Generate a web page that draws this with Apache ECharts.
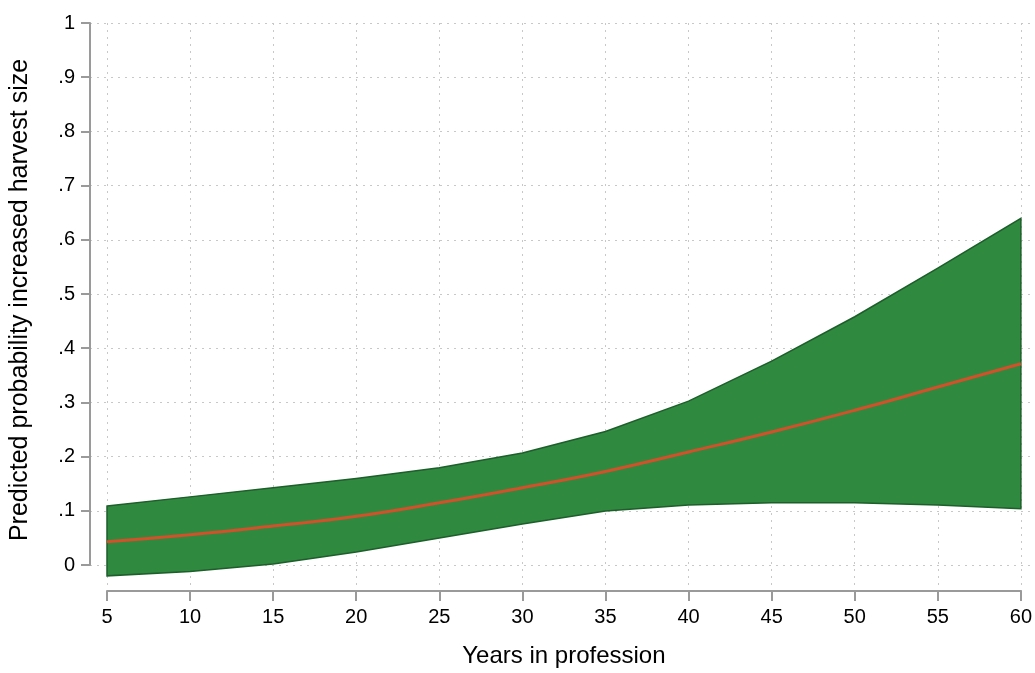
<!DOCTYPE html>
<html>
<head>
<meta charset="utf-8">
<script src="https://cdn.jsdelivr.net/npm/echarts@6/dist/echarts.min.js"></script>
<style>
html,body{margin:0;padding:0;background:#fff;}
#chart{width:1035px;height:673px;}
</style>
</head>
<body>
<div id="chart"></div>
<script>
// Data
const years = [5, 10, 15, 20, 25, 30, 35, 40, 45, 50, 55, 60];
const predicted = [0.041, 0.054, 0.070, 0.088, 0.113, 0.141, 0.171, 0.207, 0.244, 0.284, 0.327, 0.370];
const lowerCI = [-0.022, -0.014, 0.000, 0.022, 0.048, 0.074, 0.098, 0.109, 0.113, 0.113, 0.109, 0.102];
const upperCI = [0.107, 0.124, 0.141, 0.158, 0.178, 0.205, 0.245, 0.301, 0.375, 0.457, 0.547, 0.639];
const yTickValues = [0, 0.1, 0.2, 0.3, 0.4, 0.5, 0.6, 0.7, 0.8, 0.9, 1];
const yTickLabels = ['0', '.1', '.2', '.3', '.4', '.5', '.6', '.7', '.8', '.9', '1'];

const FONT = 'Liberation Sans, Arial, Helvetica, sans-serif';
const pairs = (ys) => years.map((x, i) => [x, ys[i]]);
const bandData = years.map((x, i) => [x, lowerCI[i], upperCI[i]]);

const chart = echarts.init(document.getElementById('chart'), null, {renderer: 'canvas'});
chart.setOption({
  animation: false,
  backgroundColor: '#ffffff',
  grid: [
    {left: 107, right: 13, top: 23, bottom: 79, containLabel: false},
    {left: 90, right: 5, top: 23, bottom: 108, containLabel: false}
  ],
  xAxis: [
    {
      type: 'value', gridIndex: 0, min: 5, max: 60, interval: 5,
      name: 'Years in profession', nameLocation: 'middle', nameGap: 53,
      nameTextStyle: {fontFamily: FONT, fontSize: 24, color: '#000'},
      axisLine: {show: true, onZero: false, lineStyle: {color: '#9a9a9a', width: 2}},
      axisTick: {show: true, inside: false, length: 10, lineStyle: {color: '#9a9a9a', width: 2}},
      axisLabel: {fontFamily: FONT, fontSize: 20, color: '#000', margin: 16},
      splitLine: {show: true, lineStyle: {color: '#c8c8c8', type: [2, 5], width: 1}}
    },
    {
      type: 'value', gridIndex: 1, min: 0, max: 1, show: false
    }
  ],
  yAxis: [
    {
      type: 'value', gridIndex: 0, min: -0.05, max: 1, show: false,
      splitLine: {show: false}
    },
    {
      type: 'value', gridIndex: 1, min: 0, max: 1, interval: 0.1,
      name: 'Predicted probability increased harvest size', nameLocation: 'middle', nameGap: 57,
      nameTextStyle: {fontFamily: FONT, fontSize: 25, color: '#000', padding: [0, 12, 0, 0]},
      axisLine: {show: true, lineStyle: {color: '#9a9a9a', width: 2}},
      axisTick: {show: true, inside: false, length: 9, lineStyle: {color: '#9a9a9a', width: 2}},
      axisLabel: {
        fontFamily: FONT, fontSize: 20, color: '#000', margin: 15,
        formatter: (v) => {
          const i = yTickValues.findIndex(t => Math.abs(t - v) < 1e-6);
          return i >= 0 ? yTickLabels[i] : '';
        }
      },
      splitLine: {show: true, lineStyle: {color: '#c8c8c8', type: [2, 5], width: 1}}
    }
  ],
  series: [
    {
      name: 'band', type: 'custom', xAxisIndex: 0, yAxisIndex: 0,
      data: bandData,
      encode: {x: 0, y: [1, 2]},
      renderItem: function (params, api) {
        if (params.dataIndex !== 0) return null;
        const upper = bandData.map(d => api.coord([d[0], d[2]]));
        const lower = bandData.map(d => api.coord([d[0], d[1]])).reverse();
        return {
          type: 'polygon',
          shape: {points: upper.concat(lower)},
          style: {fill: '#2f8a40', stroke: '#1d5e2a', lineWidth: 1.5}
        };
      },
      z: 2
    },
    {
      name: 'predicted', type: 'line', xAxisIndex: 0, yAxisIndex: 0,
      data: pairs(predicted), symbol: 'none', smooth: true,
      lineStyle: {color: '#d2502a', width: 3},
      z: 4
    }
  ]
});
</script>
</body>
</html>
